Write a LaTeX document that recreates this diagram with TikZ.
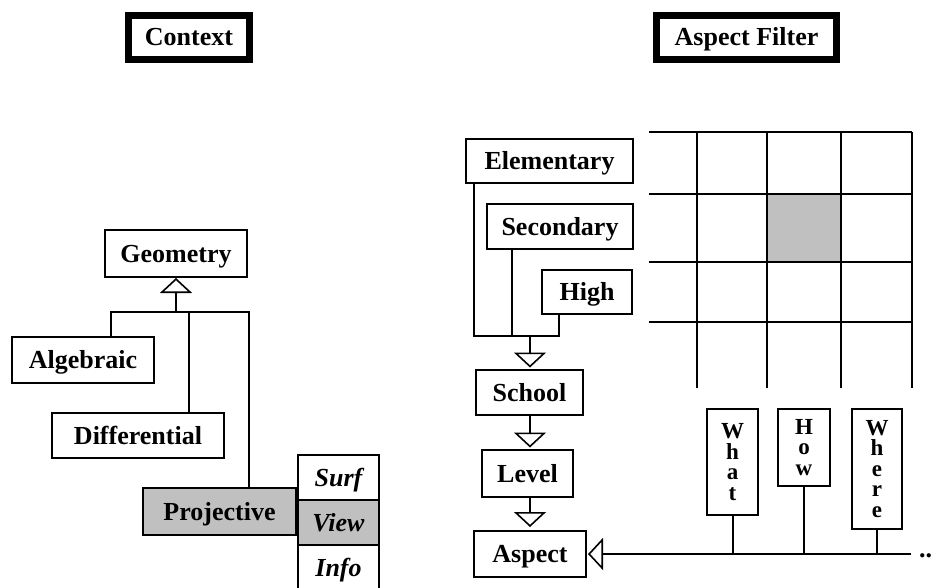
\documentclass[tikz,border=0pt]{standalone}
\usepackage{fontspec}
\setmainfont{Liberation Serif}
\usetikzlibrary{arrows.meta}
\definecolor{greyfill}{HTML}{C0C0C0}
\tikzset{
  box/.style={draw, line width=2pt, inner sep=0pt, text height=17pt, text depth=0pt,
    font=\fontsize{26}{30}\selectfont\bfseries},
  titlebox/.style={box, line width=7.5pt},
  slot/.style={box, font=\fontsize{26}{30}\selectfont\bfseries\itshape},
  vbox/.style={draw, line width=2pt, inner sep=0pt, align=center,
    font=\fontsize{23}{20.5}\selectfont\bfseries},
  link/.style={line width=2pt},
  inherit/.style={line width=2pt, -{Triangle[open, length=15pt, width=32pt, line width=1.6pt]}},
  gridline/.style={line width=2.8pt},
  gridfoot/.style={line width=2pt}
}
\begin{document}
\begin{tikzpicture}[x=1pt, y=-1pt]
\clip (0,0) rectangle (933,588);
\fill[white] (0,0) rectangle (933,588);

% headings
\node[titlebox, minimum width=121pt, minimum height=44pt] (ctx) at (189,37.5) {Context};
\node[titlebox, minimum width=180pt, minimum height=44pt] (flt) at (746.5,37.5) {Aspect Filter};

% geometry hierarchy
\node[box, minimum width=142pt, minimum height=47pt] (geo) at (176,253.5) {Geometry};
\node[box, minimum width=142pt, minimum height=46pt] (alg) at (83,360) {Algebraic};
\node[box, minimum width=172pt, minimum height=45pt] (dif) at (138,435.5) {Differential};
\node[box, fill=greyfill, minimum width=153pt, minimum height=47pt] (proj) at (219.5,511.5) {Projective};
\node[slot, minimum width=81pt, minimum height=45pt] (surf) at (338.5,477.5) {Surf};
\node[slot, fill=greyfill, minimum width=81pt, minimum height=45pt] (view) at (338.5,522.5) {View};
\node[slot, minimum width=81pt, minimum height=46pt] (info) at (338.5,568) {Info};

\coordinate (gbus) at (176,312);
\coordinate (gL) at (111,312);
\coordinate (gD) at (189,312);
\coordinate (gR) at (249,312);
\draw[inherit] (gbus) -- (geo.south);
\draw[link] (gL |- alg.north) -- (gL) -- (gR) -- (gR |- proj.north);
\draw[link] (gD) -- (gD |- dif.north);

% school hierarchy
\node[box, minimum width=167pt, minimum height=44pt] (elem) at (549.5,161) {Elementary};
\node[box, minimum width=146pt, minimum height=45pt] (sec) at (560,226.5) {Secondary};
\node[box, minimum width=90pt, minimum height=44pt] (high) at (587,292) {High};
\node[box, minimum width=107pt, minimum height=45pt] (school) at (529.5,392.5) {School};
\node[box, minimum width=91pt, minimum height=47pt] (level) at (527.5,473.5) {Level};
\node[box, minimum width=112pt, minimum height=46pt] (aspect) at (530,554) {Aspect};

\coordinate (sbus) at (530,336);
\coordinate (sE) at (474,336);
\coordinate (sS) at (512,336);
\coordinate (sH) at (559,336);
\draw[link] (sE |- elem.south) -- (sE) -- (sH) -- (sH |- high.south);
\draw[link] (sS) -- (sS |- sec.south);
\draw[inherit, shorten >=1.5pt] (sbus) -- (sbus |- school.north);
\draw[inherit, shorten >=1.5pt] (sbus |- school.south) -- (sbus |- level.north);
\draw[inherit, shorten >=3pt] (sbus |- level.south) -- (sbus |- aspect.north);

% filter grid
\fill[greyfill] (767,194) rectangle (841,262);
\draw[line width=1pt] (767,194) rectangle (841,262);
\foreach \y in {132,194,262,322} \draw[gridline] (649,\y) -- (912,\y);
\foreach \x in {697,767,841,912} {
  \draw[gridline] (\x,132) -- (\x,322);
  \draw[gridfoot] (\x,322) -- (\x,388);
}

% question boxes
\node[vbox, minimum width=51pt, minimum height=106pt] (what) at (732.5,462) {W\\h\\a\\t};
\node[vbox, minimum width=52pt, minimum height=77pt] (how) at (804,447.5) {H\\o\\w};
\node[vbox, minimum width=50pt, minimum height=120pt] (where) at (877,469) {W\\h\\e\\r\\e};

\coordinate (qend) at (911,554);
\draw[inherit, shorten >=1pt] (qend) -- (aspect.east);
\draw[link] (what.south) -- (what.south |- qend);
\draw[link] (how.south) -- (how.south |- qend);
\draw[link] (where.south) -- (where.south |- qend);
\node[anchor=base west, inner sep=0pt, font=\fontsize{26}{30}\selectfont\bfseries] (more) at (919,557) {..};
\end{tikzpicture}
\end{document}
